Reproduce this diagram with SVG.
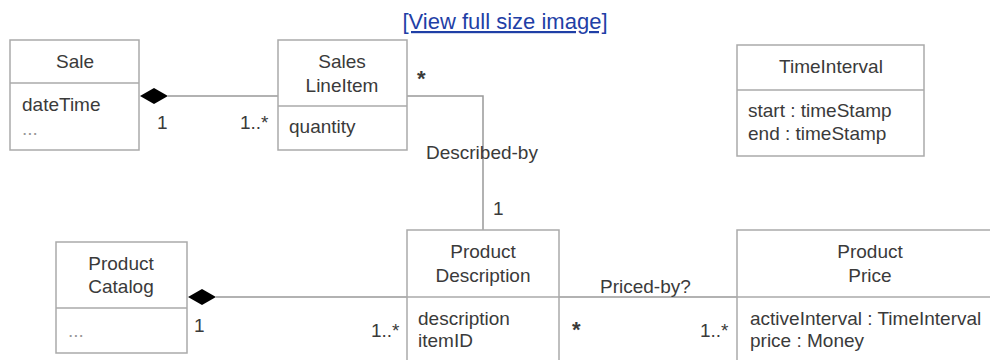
<svg xmlns="http://www.w3.org/2000/svg" width="990" height="360" viewBox="0 0 990 360">
<style>
text{font-family:"Liberation Sans",Arial,sans-serif;font-size:19px;fill:#3a3a3a}
.c{text-anchor:middle}
.box{fill:#fff;stroke:#aaa;stroke-width:1.5}
.ln{stroke:#aaa;stroke-width:1.5;fill:none}
.cn{stroke:#999;stroke-width:1.5;fill:none}
.dia{fill:#000;stroke:none}
.link{fill:#1f3fa6;font-size:22px;text-decoration:underline}
.dim{fill:#999}
.st{font-size:22px;font-weight:bold}
</style>
<rect width="990" height="360" fill="#fff"/>
<text class="link c" x="505" y="29">[View full size image]</text>
<g id="connectors">
<line class="cn" x1="168" y1="96" x2="278" y2="96"/>
<polygon class="dia" points="140,96 154,88 168,96 154,104"/>
<polyline class="cn" points="407,96 483,96 483,230"/>
<line class="cn" x1="216" y1="297" x2="407" y2="297"/>
<polygon class="dia" points="188,297 202,289 216,297 202,305"/>
<line class="cn" x1="559" y1="297" x2="737" y2="297"/>
<text x="157" y="129">1</text>
<text x="240" y="129">1..*</text>
<text class="st" x="417" y="86">*</text>
<text x="426" y="159">Described-by</text>
<text x="493" y="215">1</text>
<text x="194" y="332">1</text>
<text x="371" y="337">1..*</text>
<text x="600" y="293">Priced-by?</text>
<text class="st" x="572" y="337">*</text>
<text x="700" y="337">1..*</text>
</g>
<g id="sale">
<rect class="box" x="10" y="40" width="129" height="110"/>
<line class="ln" x1="10" y1="83" x2="139" y2="83"/>
<text class="c" x="75" y="68">Sale</text>
<text x="22" y="111">dateTime</text>
<text class="dim" x="22" y="135">...</text>
</g>
<g id="saleslineitem">
<rect class="box" x="278" y="40" width="129" height="110"/>
<line class="ln" x1="278" y1="106" x2="407" y2="106"/>
<text class="c" x="342" y="68">Sales</text>
<text class="c" x="342" y="92">LineItem</text>
<text x="289" y="133">quantity</text>
</g>
<g id="timeinterval">
<rect class="box" x="737" y="45" width="187" height="111"/>
<line class="ln" x1="737" y1="90" x2="924" y2="90"/>
<text class="c" x="831" y="73">TimeInterval</text>
<text x="748" y="117">start : timeStamp</text>
<text x="748" y="140">end : timeStamp</text>
</g>
<g id="productcatalog">
<rect class="box" x="56" y="242" width="131" height="111"/>
<line class="ln" x1="56" y1="308" x2="187" y2="308"/>
<text class="c" x="121" y="270">Product</text>
<text class="c" x="121" y="293">Catalog</text>
<text class="dim" x="68" y="337">...</text>
</g>
<g id="productdescription">
<rect class="box" x="407" y="230" width="152" height="140"/>
<line class="ln" x1="407" y1="297" x2="559" y2="297"/>
<text class="c" x="483" y="258">Product</text>
<text class="c" x="483" y="282">Description</text>
<text x="418" y="325">description</text>
<text x="418" y="347">itemID</text>
</g>
<g id="productprice">
<rect class="box" x="737" y="230" width="270" height="140"/>
<line class="ln" x1="737" y1="297" x2="1007" y2="297"/>
<text class="c" x="870" y="258">Product</text>
<text class="c" x="870" y="282">Price</text>
<text x="750" y="325">activeInterval : TimeInterval</text>
<text x="750" y="347">price : Money</text>
</g>
</svg>
